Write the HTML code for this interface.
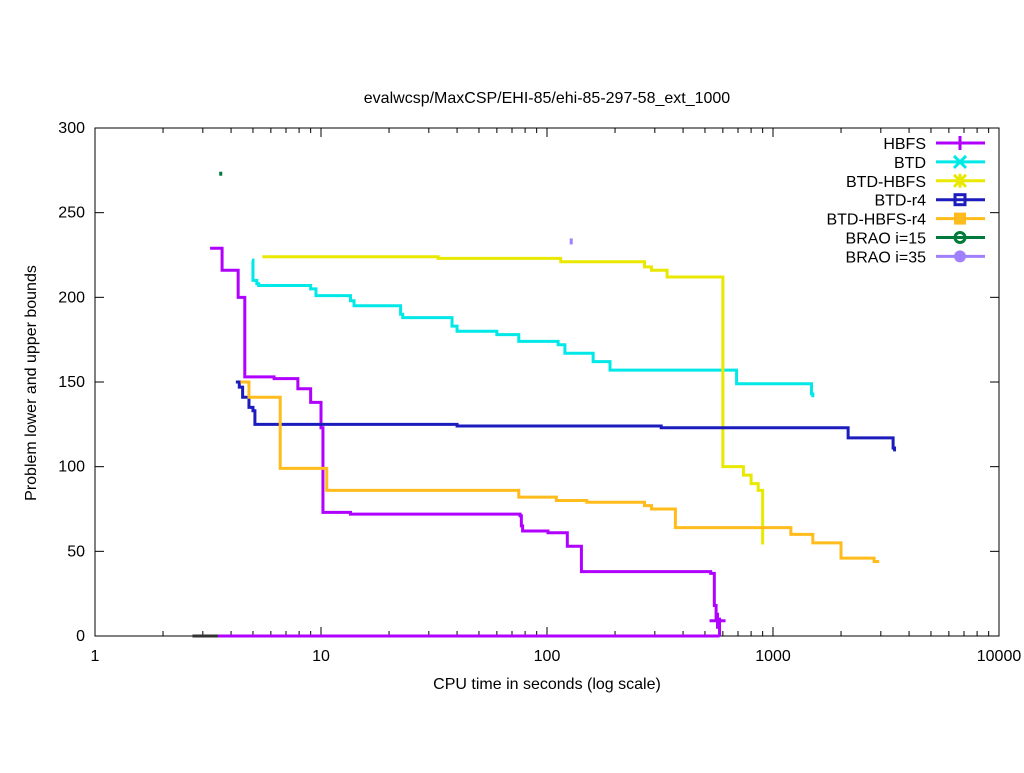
<!DOCTYPE html>
<html><head><meta charset="utf-8"><style>body{margin:0;background:#fff}svg{font-family:"Liberation Sans",sans-serif}</style></head>
<body>
<svg id="c" width="1024" height="768" xmlns="http://www.w3.org/2000/svg"></svg>
<script>
const xTicks=[1,10,100,1000,10000];
const xTickLabels=["1","10","100","1000","10000"];
const yTicks=[0,50,100,150,200,250,300];
const seriesNames=["HBFS","BTD","BTD-HBFS","BTD-r4","BTD-HBFS-r4","BRAO i=15","BRAO i=35"];
const seriesColors=["#b000ff","#00e8e8","#e8e800","#1c1cbe","#ffbc1c","#007a3a","#a080ff"];
const hbfsT=[3.23,3.65,4.3,4.6,6.2,7.9,9.0,10.0,10.2,13.5,76,77,78,101,123,142,530,550,560,580];
const hbfsV=[229,216,200,153,152,146,138,123,73,72,71,65,62,61,53,38,37,18,10,0];
const btdT=[4.95,5.0,5.2,5.3,9,9.5,13.5,14,22.5,23,38,40,60,75,112,120,160,190,690,1480,1500];
const btdV=[222,210,208,207,205,201,198,195,190,188,183,180,178,174,172,167,162,157,149,143,141];
const bhT=[5.5,33,115,270,290,340,600,740,800,860,900];
const bhV=[224,223,221,218,216,212,100,95,90,86,54];
const r4T=[4.2,4.35,4.5,4.8,5.0,5.1,40,320,2150,3400,3450];
const r4V=[150,147,141,135,133,125,124,123,117,111,109];
const bhr4T=[4.4,4.8,6.6,10.6,75,110,150,270,290,370,1200,1500,2000,2800,2950];
const bhr4V=[150,141,99,86,82,80,79,77,75,64,60,55,46,44,44];
const brao15T=[3.6], brao15V=[273];
const brao35T=[128], brao35V=[233];
const zeroT=[2.7,560], zeroV=[0,0];
const hbfsZeroT=[3.5,580], hbfsZeroV=[0,0];

const L=95,R=999,T=128,B=636;
const X=t=>L+(R-L)*Math.log10(t)/4;
const Y=v=>B-(B-T)*v/300;
const svg=document.getElementById('c');
const NS="http://www.w3.org/2000/svg";
function mk(tag,a,parent){const e=document.createElementNS(NS,tag);for(const k in a)e.setAttribute(k,a[k]);(parent||svg).appendChild(e);return e;}
function txt(s,a){const e=mk('text',a);e.textContent=s;return e;}

const frame=mk('rect',{x:L,y:T,width:R-L,height:B-T,fill:'none',stroke:'#000','stroke-width':1});


yTicks.forEach(v=>{
  mk('line',{x1:L,x2:L+9,y1:Y(v),y2:Y(v),stroke:'#000'});
  mk('line',{x1:R,x2:R-9,y1:Y(v),y2:Y(v),stroke:'#000'});
  const t=txt(String(v),{x:L-10,y:Y(v)+5,'text-anchor':'end','font-size':16});
  
  
});
xTicks.forEach((v,i)=>{
  mk('line',{x1:X(v),x2:X(v),y1:B,y2:B-9,stroke:'#000'});
  mk('line',{x1:X(v),x2:X(v),y1:T,y2:T+9,stroke:'#000'});
  if(i<xTicks.length-1)for(let m=2;m<10;m++){const xm=X(v*m);mk('line',{x1:xm,x2:xm,y1:B,y2:B-5,stroke:'#000'});mk('line',{x1:xm,x2:xm,y1:T,y2:T+5,stroke:'#000'});}
  const t=txt(xTickLabels[i],{x:X(v),y:B+25,'text-anchor':'middle','font-size':16});
  
  
});
let e=txt('evalwcsp/MaxCSP/EHI-85/ehi-85-297-58_ext_1000',{x:547,y:103,'text-anchor':'middle','font-size':16});


e=txt('CPU time in seconds (log scale)',{x:547,y:689,'text-anchor':'middle','font-size':16});


e=txt('Problem lower and upper bounds',{x:0,y:0,'text-anchor':'middle','font-size':16,transform:'translate(36,383) rotate(-90)'});



function step(ts,vs,color,name){
  let d='M'+X(ts[0])+' '+Y(vs[0]);
  for(let i=1;i<ts.length;i++){d+=' H'+X(ts[i])+' V'+Y(vs[i]);}
  const p=mk('path',{d:d,fill:'none',stroke:color,'stroke-width':3});
  
  
}
step(zeroT,zeroV,'#333','zero-bound-line');
step(hbfsT,hbfsV,seriesColors[0],'hbfs-line');
step(btdT,btdV,seriesColors[1],'btd-line');
step(bhT,bhV,seriesColors[2],'btd-hbfs-line');
step(r4T,r4V,seriesColors[3],'btd-r4-line');
step(bhr4T,bhr4V,seriesColors[4],'btd-hbfs-r4-line');
step(hbfsZeroT,hbfsZeroV,seriesColors[0],'hbfs-zero-line');
let m=mk('line',{x1:X(brao15T[0]),x2:X(brao15T[0]),y1:Y(brao15V[0])-2,y2:Y(brao15V[0])+2,stroke:seriesColors[5],'stroke-width':3});


m=mk('line',{x1:X(brao35T[0]),x2:X(brao35T[0]),y1:Y(brao35V[0])-3,y2:Y(brao35V[0])+3,stroke:seriesColors[6],'stroke-width':3});


const hx=X(hbfsT[hbfsT.length-1])-2, hy=Y(9);
mk('path',{d:`M${hx-8} ${hy}H${hx+8}M${hx} ${hy-8}V${hy+8}`,stroke:seriesColors[0],'stroke-width':3});

seriesNames.forEach((n,i)=>{
  const y=143+i*18.9;
  const g=mk('g',{});
  
  
  const t=mk('text',{x:926,y:y+6,'text-anchor':'end','font-size':16},g);t.textContent=n;
  mk('line',{x1:936,x2:985,y1:y,y2:y,stroke:seriesColors[i],'stroke-width':3},g);
  const c=seriesColors[i],cx=960;
  if(i==0)mk('path',{d:`M${cx} ${y-7}V${y+7}`,stroke:c,'stroke-width':3},g);
  if(i==1)mk('path',{d:`M${cx-6} ${y-6}L${cx+6} ${y+6}M${cx-6} ${y+6}L${cx+6} ${y-6}`,stroke:c,'stroke-width':3},g);
  if(i==2)mk('path',{d:`M${cx-6} ${y-6}L${cx+6} ${y+6}M${cx-6} ${y+6}L${cx+6} ${y-6}M${cx} ${y-7}V${y+7}`,stroke:c,'stroke-width':3},g);
  if(i==3)mk('rect',{x:cx-5,y:y-5,width:10,height:10,fill:'none',stroke:c,'stroke-width':3},g);
  if(i==4)mk('rect',{x:cx-6,y:y-6,width:12,height:12,fill:c},g);
  if(i==5)mk('circle',{cx:cx,cy:y,r:5,fill:'none',stroke:c,'stroke-width':3},g);
  if(i==6)mk('circle',{cx:cx,cy:y,r:6,fill:c},g);
});
</script>
</body></html>
